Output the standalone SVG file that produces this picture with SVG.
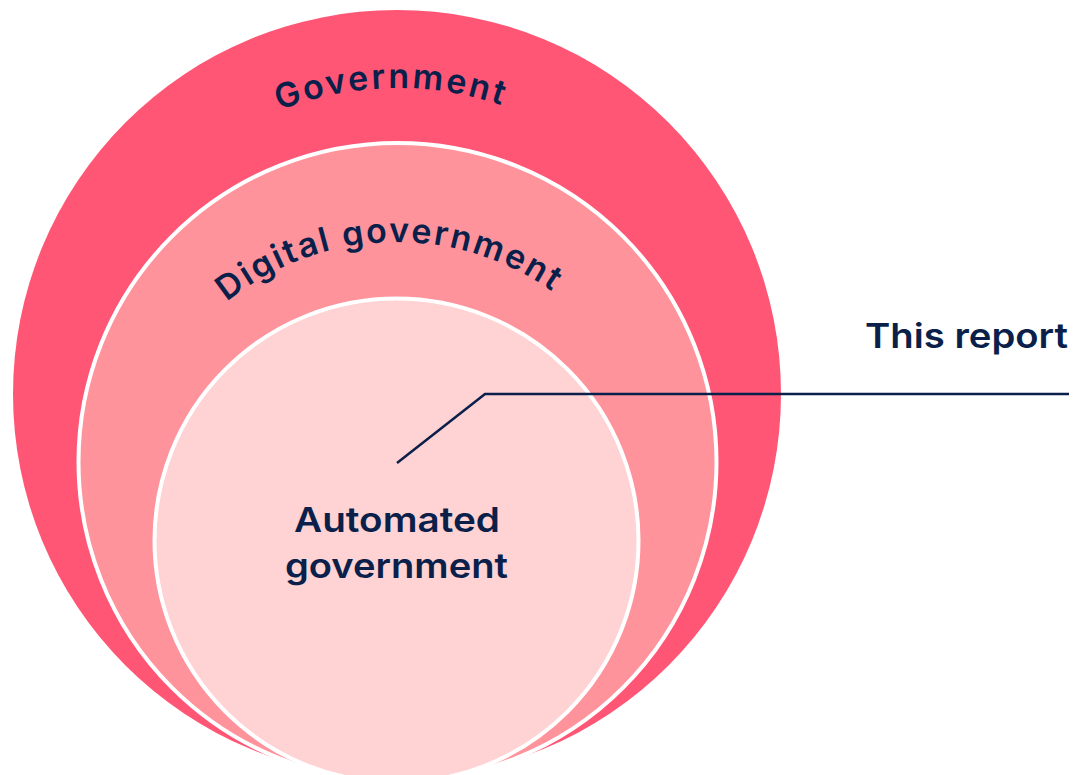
<svg xmlns="http://www.w3.org/2000/svg" width="1086" height="775" viewBox="0 0 1086 775">
  <style>
    .lbl { font-family: "Inter", "Noto Sans", "Liberation Sans", sans-serif; font-weight: 600; fill: #0B1F4B; }
    .ring { stroke: #FFFFFF; stroke-width: 4; }
    .conn { fill: none; stroke: #0B1F4B; stroke-width: 2.5; stroke-linejoin: miter; }
  </style>
  <defs>
    <path id="arcGov" d="M 77.5 408 A 320 320 0 0 1 717.5 408"/>
    <path id="arcDig" d="M 126.5 512 A 270 270 0 0 1 666.5 512"/>
  </defs>
  <rect width="1086" height="775" fill="#FFFFFF"/>
  <g id="government">
    <circle cx="397" cy="394" r="384" fill="#FF5675"/>
    <text class="lbl" font-size="34" letter-spacing="2.6"><textPath href="#arcGov" startOffset="496" text-anchor="middle">Government</textPath></text>
  </g>
  <g id="digital-government">
    <circle class="ring" cx="397.5" cy="462" r="319" fill="#FF939B"/>
    <text class="lbl" font-size="34" letter-spacing="2.2"><textPath href="#arcDig" startOffset="416" text-anchor="middle">Digital government</textPath></text>
  </g>
  <g id="automated-government">
    <circle class="ring" cx="396.5" cy="540.5" r="242" fill="#FFD2D3"/>
    <text class="lbl" font-size="34" text-anchor="middle" x="397" y="532" textLength="206" lengthAdjust="spacingAndGlyphs">Automated</text>
    <text class="lbl" font-size="34" text-anchor="middle" x="396.5" y="578" textLength="223" lengthAdjust="spacingAndGlyphs">government</text>
  </g>
  <g id="this-report">
    <text class="lbl" font-size="34" x="865" y="348" textLength="203" lengthAdjust="spacingAndGlyphs">This report</text>
  </g>
  <g id="connectors">
    <polyline class="conn" points="397,463 485,394 1069,394"/>
  </g>
</svg>
